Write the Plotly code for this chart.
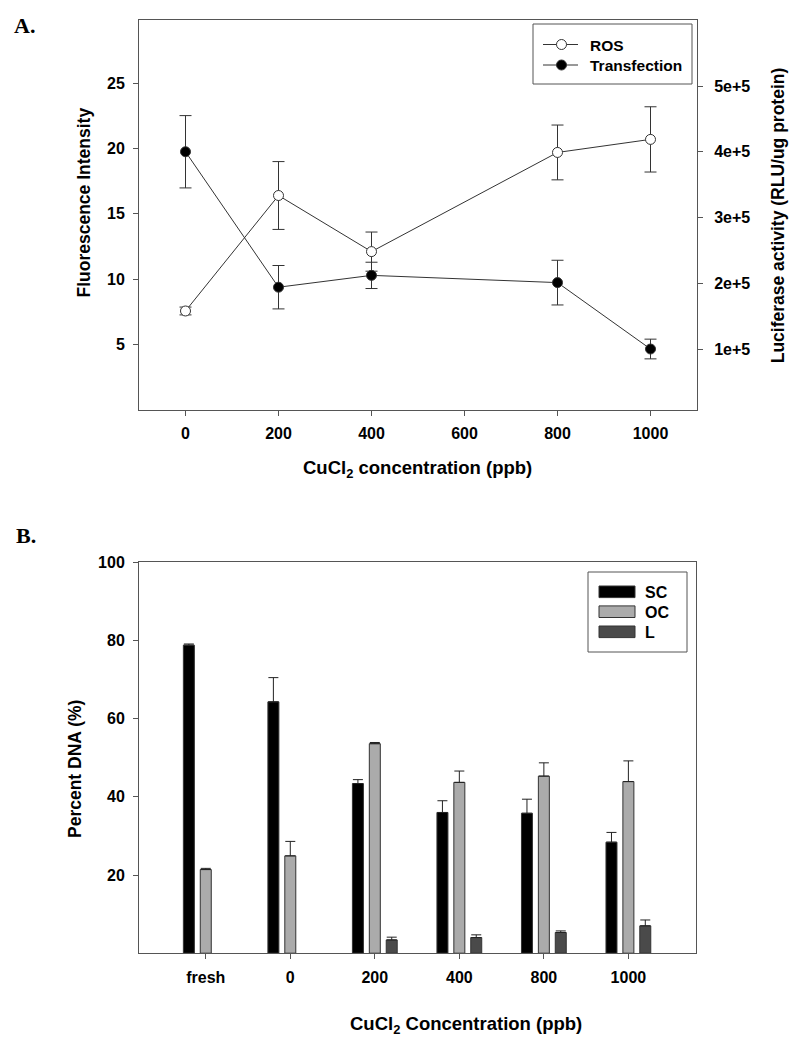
import plotly.graph_objects as go

# ---------------- Panel A data ----------------
conc = [0, 200, 400, 800, 1000]
ros = [7.55, 16.4, 12.1, 19.7, 20.7]
ros_err = [0.3, 2.6, 1.5, 2.1, 2.5]
transfection = [4.0e5, 1.94e5, 2.12e5, 2.01e5, 1.0e5]
transfection_err = [0.55e5, 0.33e5, 0.2e5, 0.34e5, 0.15e5]
x_ticks_a = [0, 200, 400, 600, 800, 1000]
y_ticks_a = [5, 10, 15, 20, 25]
y2_ticks_a = [1e5, 2e5, 3e5, 4e5, 5e5]
y2_ticktext_a = ["1e+5", "2e+5", "3e+5", "4e+5", "5e+5"]
series_a = ["ROS", "Transfection"]
fills_a = ["white", "black"]

# ---------------- Panel B data ----------------
groups = ["fresh", "0", "200", "400", "800", "1000"]
sc = [78.8, 64.3, 43.4, 36.0, 35.8, 28.4]
sc_err = [0.3, 6.2, 1.0, 3.0, 3.6, 2.5]
oc = [21.4, 24.9, 53.6, 43.7, 45.3, 43.9]
oc_err = [0.3, 3.7, 0.3, 2.9, 3.4, 5.3]
lin = [None, None, 3.4, 4.0, 5.3, 7.0]
lin_err = [0, 0, 0.7, 0.7, 0.4, 1.5]
y_ticks_b = [20, 40, 60, 80, 100]
series_b = ["SC", "OC", "L"]
colors_b = ["#000000", "#ababab", "#4a4a4a"]

# page body has an 8px margin: work in window pixels, convert to paper
OFF = 8
W, H = 800 - OFF, 1045 - OFF


def px(x):
    return (x - OFF) / W


def py(y):
    return 1 - (y - OFF) / H


FONT = "Liberation Sans, Arial, Helvetica, sans-serif"
SERIF = "Liberation Serif, Times New Roman, serif"
AX = "#555555"
LN = "#333333"

tickfont = dict(family=FONT, size=16, color="black", weight="bold")
ytitlefont = dict(family=FONT, size=17.5, color="black", weight="bold")
xtitlefont = dict(family=FONT, size=18.5, color="black", weight="bold")

fig = go.Figure()

for name, vals, errs, fill, yax in zip(series_a, [ros, transfection], [ros_err, transfection_err],
                                        fills_a, ["y", "y2"]):
    fig.add_trace(go.Scatter(
        x=conc, y=vals, name=name, mode="lines+markers", showlegend=False,
        line=dict(color=LN, width=1),
        marker=dict(symbol="circle", size=10, color=fill, line=dict(color=LN, width=1)),
        error_y=dict(type="data", array=errs, color=LN, thickness=1, width=6),
        xaxis="x", yaxis=yax))

for name, vals, errs, col in zip(series_b, [sc, oc, lin], [sc_err, oc_err, lin_err], colors_b):
    fig.add_trace(go.Bar(
        x=groups, y=vals, name=name, showlegend=False,
        marker=dict(color=col, line=dict(color="#333333", width=1)),
        error_y=dict(type="data", array=errs, arrayminus=[0] * len(errs), symmetric=False,
                     color="#222222", thickness=1, width=5),
        xaxis="x2", yaxis="y3"))

top_a, bot_a = 20, 409.5
top_b, bot_b = 562.3, 953.2
xl, xr = 139, 697

common = dict(showgrid=False, zeroline=False, showline=True, linecolor=AX, linewidth=1,
              ticks="outside", ticklen=5, tickcolor=AX, tickfont=tickfont, automargin=False)

annotations = [
    dict(text="A.", x=px(12), y=py(26), xanchor="left", yanchor="middle",
         font=dict(family=SERIF, size=22, color="black", weight="bold")),
    dict(text="B.", x=px(14), y=py(535), xanchor="left", yanchor="middle",
         font=dict(family=SERIF, size=22, color="black", weight="bold")),
    dict(text="CuCl<sub>2</sub> concentration (ppb)", x=px(417), y=py(469),
         xanchor="center", yanchor="middle", font=xtitlefont),
    dict(text="Fluorescence Intensity", x=px(83), y=py(202.5), textangle=-90,
         xanchor="center", yanchor="middle", font=ytitlefont),
    dict(text="Luciferase activity (RLU/ug protein)", x=px(777.5), y=py(215.8), textangle=-90,
         xanchor="center", yanchor="middle", font=ytitlefont),
    dict(text="CuCl<sub>2</sub> Concentration (ppb)", x=px(466), y=py(1025),
         xanchor="center", yanchor="middle", font=xtitlefont),
    dict(text="Percent DNA (%)", x=px(75), y=py(769), textangle=-90,
         xanchor="center", yanchor="middle", font=ytitlefont),
]

shapes = []
legfont = dict(family=FONT, size=15.5, color="black", weight="bold")

# custom legend for panel A (line + circle)
shapes.append(dict(type="rect", xref="paper", yref="paper", x0=px(533), x1=px(692),
                   y0=py(84), y1=py(24), line=dict(color=AX, width=1), fillcolor="white"))
for name, fill, yc in zip(series_a, fills_a, [44.5, 65]):
    shapes.append(dict(type="line", xref="paper", yref="paper", x0=px(543), x1=px(578),
                       y0=py(yc), y1=py(yc), line=dict(color=LN, width=1)))
    shapes.append(dict(type="circle", xref="paper", yref="paper", x0=px(556.5), x1=px(566.5),
                       y0=py(yc + 5), y1=py(yc - 5), line=dict(color=LN, width=1),
                       fillcolor=fill))
    annotations.append(dict(text=name, x=px(588), y=py(yc + 0.5), xanchor="left",
                            yanchor="middle", font=legfont))

# custom legend for panel B (rectangular swatches)
shapes.append(dict(type="rect", xref="paper", yref="paper", x0=px(588), x1=px(687),
                   y0=py(652), y1=py(572), line=dict(color=AX, width=1), fillcolor="white"))
for name, col, yc in zip(series_b, colors_b, [591.8, 611.7, 631.8]):
    shapes.append(dict(type="rect", xref="paper", yref="paper", x0=px(599), x1=px(635),
                       y0=py(yc + 5.8), y1=py(yc - 5.8), line=dict(color="#333333", width=1),
                       fillcolor=col))
    annotations.append(dict(text=name, x=px(643), y=py(yc + 0.5), xanchor="left",
                            yanchor="middle",
                            font=dict(family=FONT, size=16, color="black", weight="bold")))

for a in annotations:
    a.update(xref="paper", yref="paper", showarrow=False)

fig.update_layout(
    width=W, height=H, autosize=False,
    margin=dict(l=0, r=0, t=0, b=0),
    paper_bgcolor="white", plot_bgcolor="white",
    barmode="group", bargap=0.4, bargroupgap=0.35,
    showlegend=False,
    xaxis=dict(domain=[px(xl), px(xr)], anchor="y", range=[-100, 1100],
               tickvals=x_ticks_a, mirror=True, ticklabelstandoff=4, **common),
    yaxis=dict(domain=[py(bot_a), py(top_a)], anchor="x", range=[0, 29.85],
               tickvals=y_ticks_a, ticklabelstandoff=5, **common),
    yaxis2=dict(overlaying="y", side="right", anchor="x", range=[8000, 600400],
                tickvals=y2_ticks_a, ticktext=y2_ticktext_a, ticklabelstandoff=8, **common),
    xaxis2=dict(domain=[px(xl), px(696)], anchor="y3", type="category", range=[-0.79, 5.8],
                mirror=True, ticklabelstandoff=5, **common),
    yaxis3=dict(domain=[py(bot_b), py(top_b)], anchor="x2", range=[0, 100],
                tickvals=y_ticks_b, mirror=True, ticklabelstandoff=5, **common),
    annotations=annotations,
    shapes=shapes,
)

fig.write_html("out.html")
